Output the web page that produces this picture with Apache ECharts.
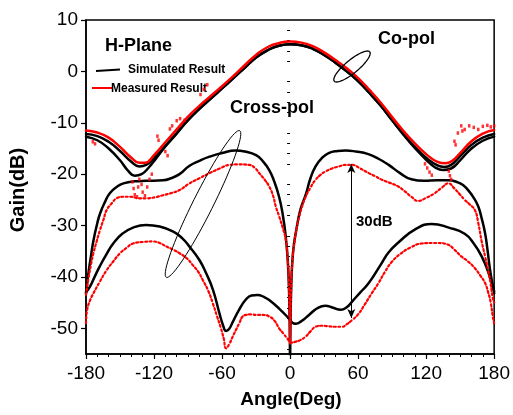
<!DOCTYPE html>
<html>
<head>
<meta charset="utf-8">
<script src="https://cdn.jsdelivr.net/npm/echarts@6/dist/echarts.min.js"></script>
<style>
  html, body { margin: 0; padding: 0; background: #fff; }
  #chart { width: 513px; height: 415px; }
</style>
</head>
<body>
<div id="chart"></div>
<script>
// H-plane radiation pattern: co-pol and cross-pol, simulated vs measured

const xTicks = [-180, -120, -60, 0, 60, 120, 180];
const yMajorTicks = [-50, -40, -30, -20, -10, 0, 10];

// Co-pol, measured (red solid)
const coMeasured = [
  [-180,-11.5],[-170,-11.9],[-160,-12.9],[-150,-14.7],[-140,-16.8],[-133,-17.8],[-128,-17.8],
  [-120,-16.3],[-110,-13.8],[-100,-11.3],[-90,-8.8],[-80,-6.7],[-70,-4.8],[-60,-2.9],[-50,-0.9],
  [-40,1.2],[-30,3.2],[-20,4.7],[-10,5.5],[0,5.8],[10,5.6],[20,4.9],[30,3.7],[40,2.2],[50,0.6],
  [60,-1.3],[70,-3.6],[80,-6.1],[90,-8.9],[100,-11.6],[110,-14.0],[120,-16.1],[130,-17.6],
  [137,-17.9],[143,-17.4],[150,-15.9],[160,-13.6],[170,-12.1],[180,-11.4]
];

// Co-pol, measured: scattered samples off the main trace
const coMeasuredScatter = [
  [-174,-13.7],[-172,-14.1],
  [-139,-21.5],[-138,-22.8],[-137,-24.0],[-135,-24.4],[-134,-22.5],[-133,-21.0],
  [-131,-22.0],[-130,-23.5],[-128,-24.2],[-126,-22.5],[-124,-21.0],[-122,-20.0],
  [-117,-12.6],[-116,-13.4],[-110,-15.6],[-108,-16.4],
  [-106,-11.2],[-104,-10.6],[-100,-9.6],[-97,-9.2],[-93,-9.5],
  [-79,-4.5],[-76,-3.5],[-73,-2.6],
  [119,-18.0],[121,-18.8],[123,-19.6],[125,-20.2],
  [140,-19.4],[141,-20.3],[142,-21.0],
  [145,-13.6],[146,-14.3],[148,-12.0],[151,-10.6],[152,-11.6],[154,-11.3],[158,-10.6],
  [162,-10.9],[166,-11.3],[170,-10.7],[174,-10.5],[177,-10.8],[180,-10.6]
];

// Co-pol, simulated (two black traces)
const coSimA = [
  [-180,-12.2],[-170,-12.6],[-160,-13.7],[-150,-15.5],[-140,-17.6],[-133,-18.5],[-127,-18.2],
  [-120,-16.9],[-110,-14.5],[-100,-12.0],[-90,-9.5],[-80,-7.3],[-70,-5.3],[-60,-3.3],[-50,-1.3],
  [-40,0.7],[-30,2.7],[-20,4.1],[-10,5.0],[0,5.3],[10,5.1],[20,4.4],[30,3.2],[40,1.7],[50,0.0],
  [60,-1.9],[70,-4.2],[80,-6.7],[90,-9.5],[100,-12.2],[110,-14.7],[120,-16.8],[130,-18.3],
  [136,-18.6],[142,-18.2],[150,-16.5],[160,-14.3],[170,-12.9],[180,-12.2]
];
const coSimB = [
  [-180,-12.7],[-170,-13.4],[-160,-15.0],[-150,-17.3],[-143,-19.3],[-137,-20.3],[-131,-20.0],
  [-125,-18.8],[-118,-16.9],[-110,-14.6],[-100,-12.1],[-90,-9.5],[-80,-7.3],[-70,-5.3],
  [-60,-3.3],[-50,-1.3],[-40,0.7],[-30,2.7],[-20,4.1],[-10,5.0],[0,5.3],[10,5.1],[20,4.4],
  [30,3.2],[40,1.7],[50,0.0],[60,-1.9],[70,-4.2],[80,-6.7],[90,-9.5],[100,-12.3],[110,-14.9],
  [120,-17.2],[128,-18.7],[135,-19.2],[142,-18.9],[150,-17.3],[160,-15.0],[170,-13.5],[180,-12.7]
];

// Cross-pol, simulated (black)
const crossSimUpper = [
  [-180,-43.2],[-178,-39.5],[-176,-36.5],[-173.5,-33],[-170,-29.5],[-167.5,-27.6],[-163,-25.3],
  [-159,-23.7],[-153,-22.5],[-147,-21.8],[-137,-21.4],[-127,-21.3],[-112,-21.2],[-105,-20.8],
  [-97.5,-20.0],[-89,-18.4],[-80,-17.4],[-71,-16.6],[-60,-15.9],[-48,-15.4],[-40,-15.6],
  [-30,-16.3],[-24,-17.5],[-18.4,-19.2],[-14,-21.4],[-9.7,-24.4],[-6.5,-27.8],[-3.8,-32.2],
  [-2,-37],[-1,-42],[-0.3,-50],[0,-60],[0.3,-50],[1,-42],[2,-37],[3.5,-33.5],[5,-31.5],
  [9,-27],[13.8,-24.0],[18,-20.8],[22.5,-18.5],[28,-16.9],[34,-15.9],[42,-15.5],[49,-15.4],
  [58,-15.6],[69,-16.1],[78,-17.0],[87,-18.2],[97,-19.8],[107,-21.0],[118,-21.3],[130,-21.2],
  [140,-21.2],[148,-21.6],[153,-22.2],[157,-23.1],[162,-24.6],[166,-26.3],[169,-28.6],
  [172,-31.5],[174,-34.5],[176,-38],[178,-40.8],[180,-43.2]
];
const crossSimLower = [
  [-180,-43],[-176.5,-41.9],[-172,-39.8],[-168,-38],[-162,-35.6],[-156,-33.5],[-148,-31.6],
  [-138.5,-30.4],[-127,-29.9],[-115,-30.2],[-103,-31.2],[-95,-32.5],[-88.7,-34.1],[-80,-36.7],
  [-74,-39.3],[-68,-42.5],[-62.3,-47.1],[-59,-49.5],[-56.5,-50.5],[-54,-50.2],[-50.6,-48.8],
  [-45,-46.4],[-39,-44.4],[-34,-43.6],[-28.7,-43.5],[-23,-43.9],[-18.4,-44.5],[-9,-46.3],
  [-1,-48.1],[2,-48.9],[5,-49.1],[10,-48.6],[16.7,-47.4],[24,-46.1],[31,-45.6],[38,-46.0],
  [44.5,-46.4],[50,-45.9],[54.7,-44.8],[62,-43.0],[69.4,-41.2],[80,-37.6],[87,-35.2],
  [96,-33.2],[110,-30.8],[125,-29.7],[140,-30.4],[154,-31.6],[162,-33.5],[169,-36],
  [175,-39.2],[180,-42.8]
];

// Cross-pol, measured (red dotted)
const crossMeasUpper = [
  [-180,-43.5],[-178,-40.5],[-175.5,-37.5],[-173.5,-35.4],[-170.5,-33],[-167.7,-30.9],
  [-164.5,-28.8],[-161.8,-27],[-157,-25.6],[-153,-24.7],[-147,-24.4],[-141,-24.4],[-133,-24.7],
  [-126.7,-24.7],[-119,-24.5],[-112,-24.1],[-105,-23.7],[-97.5,-23.1],[-88.7,-21.8],[-80,-20.8],
  [-71,-19.8],[-62,-18.9],[-53.6,-18.2],[-45,-18.1],[-36,-18.2],[-31,-18.8],[-27.2,-19.8],
  [-22,-21.2],[-18.4,-22.4],[-15,-24.2],[-12.6,-26.3],[-9.5,-28.3],[-6.8,-30.2],[-3.8,-32.8],
  [-2,-37],[-1,-42],[-0.4,-48],[0,-53],[0.4,-48],[1,-42],[2,-37],[4,-33],[6,-30.2],[8,-28.3],
  [11,-26],[13.8,-24.4],[18,-22.6],[22.5,-21.1],[27,-20.1],[31,-19.5],[37,-18.9],[43,-18.5],
  [49,-18.2],[54.7,-18.2],[62,-18.9],[69.4,-19.8],[75,-20.4],[81,-21.1],[88,-21.7],
  [95.4,-22.4],[101,-23.3],[107,-24.4],[113,-25.2],[120,-24.6],[127.6,-23.7],[134,-22.6],
  [139.5,-21.8],[145,-22.8],[150,-24.0],[154,-25],[158,-25.8],[163,-27],[166,-29.5],
  [169,-33.1],[172,-36],[174.7,-38.7],[177,-41.5],[178.5,-43.8],[180,-45]
];
const crossMeasLower = [
  [-180,-49],[-179,-46.4],[-176.5,-44.6],[-173.5,-43.2],[-168,-41],[-161.8,-38.7],[-156,-37],
  [-150,-35.4],[-144,-34.3],[-138.5,-33.5],[-130,-33.2],[-121,-33.1],[-115,-33.4],[-109,-34.1],
  [-103,-34.7],[-97.5,-35.4],[-91,-36.4],[-85.8,-37.7],[-81,-39],[-77,-40.6],[-72,-42.8],
  [-68.2,-45.1],[-64.5,-47.6],[-61,-50],[-58.5,-52],[-56.5,-53.9],[-53.5,-53],[-50.6,-51.6],
  [-47.5,-50.2],[-44.8,-49],[-41.9,-47.7],[-39,-47.4],[-34,-47.3],[-30,-47.4],[-24,-47.4],
  [-18.4,-47.7],[-13.5,-48.6],[-9.7,-50],[-6,-51],[-2.4,-52],[1,-52.8],[5,-52.6],[9,-52.3],
  [13.8,-51.6],[18,-50.6],[22.5,-49.7],[28,-49.5],[34,-49.6],[40,-49.7],[46,-49.7],[50,-49.2],
  [54.7,-48.4],[60,-47.3],[66,-45.3],[72,-43.2],[78,-41.2],[83.7,-39],[90,-37],[98,-35.4],
  [106,-34.3],[116,-33.5],[125,-33.4],[130.5,-33.4],[139,-33.7],[145,-34.7],[151,-36],
  [157,-37],[163,-38.3],[168,-39.8],[172,-41.2],[174.7,-43],[177,-45],[178.8,-47.7],[180,-49]
];

// 30 dB gap marker between the measured cross-pol traces
const gapAngle = 54;
const gapTop = -18;
const gapBottom = -48;

const FONT = '"Liberation Sans", Arial, sans-serif';
const BLACK = '#000000';
const RED = '#ff0000';

// minor y ticks every 2 dB between the labelled ones
const yMinorTicks = [];
for (let v = -54; v <= 10; v += 2) {
  if (v % 10 !== 0) yMinorTicks.push(v);
}

// outline of a rotated ellipse as a polyline (screen pixels)
function ellipsePoints(cx, cy, a, b, deg) {
  const phi = deg * Math.PI / 180;
  const ux = Math.cos(phi), uy = -Math.sin(phi);
  const vx = Math.sin(phi), vy = Math.cos(phi);
  const pts = [];
  for (let i = 0; i <= 72; i++) {
    const t = i / 72 * Math.PI * 2;
    const ca = a * Math.cos(t), sb = b * Math.sin(t);
    pts.push([cx + ca * ux + sb * vx, cy + ca * uy + sb * vy]);
  }
  return pts;
}

function lineSeries(name, data, color, width, dash) {
  return {
    name: name,
    type: 'line',
    data: data,
    smooth: 0.5,
    showSymbol: false,
    symbol: 'none',
    clip: true,
    lineStyle: { color: color, width: width, type: dash || 'solid', join: 'round', cap: 'round' },
    z: 3
  };
}

const chart = echarts.init(document.getElementById('chart'), null, { renderer: 'canvas' });

const crossUpperMeasSeries = lineSeries('Measured cross-pol', crossMeasUpper, RED, 2.2, [2, 2.5]);
crossUpperMeasSeries.markLine = {
  silent: true,
  symbol: ['arrow', 'arrow'],
  symbolSize: [6, 9],
  label: { show: false },
  lineStyle: { color: BLACK, width: 1, type: 'solid' },
  data: [[{ coord: [gapAngle, gapTop] }, { coord: [gapAngle, gapBottom] }]]
};

const option = {
  animation: false,
  backgroundColor: '#ffffff',
  grid: {
    left: 86, right: 17, top: 20, bottom: 61,
    show: true, borderColor: BLACK, borderWidth: 1.5, backgroundColor: 'transparent'
  },
  xAxis: {
    type: 'value', min: -180, max: 180, interval: 60,
    axisLine: { show: true, onZero: false, lineStyle: { color: BLACK, width: 1.5 } },
    axisTick: { show: true, inside: false, length: 5, lineStyle: { color: BLACK, width: 1.2 } },
    minorTick: { show: true, splitNumber: 6, length: 3, lineStyle: { color: BLACK, width: 1 } },
    splitLine: { show: false },
    minorSplitLine: { show: false },
    axisLabel: { color: BLACK, fontFamily: FONT, fontSize: 19, margin: 10 }
  },
  yAxis: [
    {
      type: 'value', min: -55, max: 10,
      axisLine: { show: true, onZero: false, lineStyle: { color: BLACK, width: 1.5 } },
      axisTick: { show: true, inside: false, length: 5, customValues: yMajorTicks,
        lineStyle: { color: BLACK, width: 1.2 } },
      splitLine: { show: false },
      axisLabel: { color: BLACK, fontFamily: FONT, fontSize: 19, margin: 8, customValues: yMajorTicks }
    },
    {
      type: 'value', min: -55, max: 10, position: 'left',
      axisLine: { show: false },
      axisTick: { show: true, inside: false, length: 3, customValues: yMinorTicks,
        lineStyle: { color: BLACK, width: 1 } },
      splitLine: { show: false },
      axisLabel: { show: false }
    }
  ],
  series: [
    lineSeries('Simulated cross-pol', crossSimUpper, BLACK, 2.5),
    lineSeries('Simulated cross-pol 2', crossSimLower, BLACK, 2.5),
    crossUpperMeasSeries,
    lineSeries('Measured cross-pol 2', crossMeasLower, RED, 2.2, [2, 2.5]),
    lineSeries('Simulated co-pol 2', coSimB, BLACK, 2.5),
    lineSeries('Simulated co-pol', coSimA, BLACK, 2.5),
    lineSeries('Measured co-pol', coMeasured, RED, 2.5),
    {
      name: 'Measured co-pol samples',
      type: 'scatter',
      data: coMeasuredScatter,
      symbol: 'rect',
      symbolSize: [2.5, 3.5],
      itemStyle: { color: RED },
      z: 4
    }
  ],
  graphic: [
    { type: 'text', style: { x: 105, y: 46, text: 'H-Plane', font: 'bold 18px ' + FONT,
      fill: BLACK, textAlign: 'left', textVerticalAlign: 'middle' } },
    { type: 'line', shape: { x1: 96, y1: 71, x2: 120, y2: 69.5 },
      style: { stroke: BLACK, lineWidth: 2 } },
    { type: 'text', style: { x: 128, y: 70, text: 'Simulated Result', font: 'bold 12px ' + FONT,
      fill: BLACK, textAlign: 'left', textVerticalAlign: 'middle' } },
    { type: 'line', shape: { x1: 92, y1: 88, x2: 112, y2: 88 },
      style: { stroke: RED, lineWidth: 2 } },
    { type: 'text', style: { x: 111, y: 89, text: 'Measured Result', font: 'bold 12px ' + FONT,
      fill: BLACK, textAlign: 'left', textVerticalAlign: 'middle' } },
    { type: 'text', style: { x: 378, y: 39, text: 'Co-pol', font: 'bold 18px ' + FONT,
      fill: BLACK, textAlign: 'left', textVerticalAlign: 'middle' } },
    { type: 'text', style: { x: 230, y: 108, text: 'Cross-pol', font: 'bold 18px ' + FONT,
      fill: BLACK, textAlign: 'left', textVerticalAlign: 'middle' } },
    { type: 'text', style: { x: 356, y: 222, text: '30dB', font: 'bold 15px ' + FONT,
      fill: BLACK, textAlign: 'left', textVerticalAlign: 'middle' } },
    { type: 'polyline', shape: { points: ellipsePoints(352, 66.5, 23, 6.5, 39.6) },
      style: { stroke: BLACK, lineWidth: 1.3, fill: null }, z: 10 },
    { type: 'polyline', shape: { points: ellipsePoints(203, 204, 82, 10, 63.4) },
      style: { stroke: BLACK, lineWidth: 1, fill: null }, z: 10 },
    { type: 'text', style: { x: 291, y: 400, text: 'Angle(Deg)', font: 'bold 19px ' + FONT,
      fill: BLACK, textAlign: 'center', textVerticalAlign: 'middle' } },
    { type: 'text', rotation: Math.PI / 2, x: 18, y: 190,
      style: { x: 0, y: 0, text: 'Gain(dB)', font: 'bold 20px ' + FONT,
      fill: BLACK, textAlign: 'center', textVerticalAlign: 'middle' } }
  ]
};

chart.setOption(option);
</script>
</body>
</html>
